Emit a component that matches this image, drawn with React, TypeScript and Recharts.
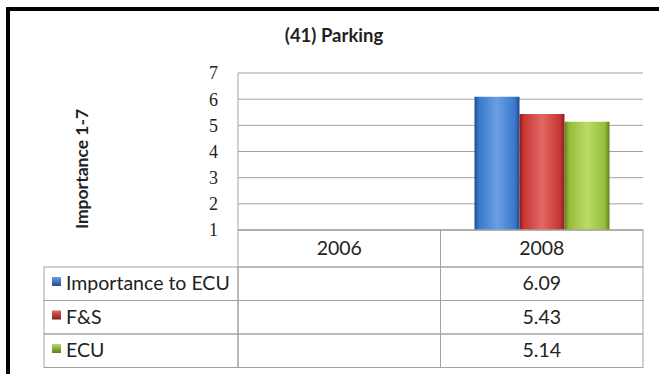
import { FC } from "react";
import {
    BarChart,
    Bar,
    CartesianGrid,
    XAxis,
    YAxis,
    Customized,
} from "recharts";

const years = ["2006", "2008"];
const importanceToEcu = [null, 6.09];
const fAndS = [null, 5.43];
const ecu = [null, 5.14];
const yTicks = [1, 2, 3, 4, 5, 6, 7];

const SERIES = [
    { key: "importance", name: "Importance to ECU", values: importanceToEcu, color: "#3a78cc", dark: "#1d4c92", light: "#6a9fe2" },
    { key: "fs", name: "F&S", values: fAndS, color: "#c93633", dark: "#8a1d1b", light: "#e06865" },
    { key: "ecu", name: "ECU", values: ecu, color: "#95bd38", dark: "#5c7e1e", light: "#badb68" },
];

const data = years.map((year, i) => {
    const row: { [key: string]: string | number | null } = { year };
    SERIES.forEach((s) => (row[s.key] = s.values[i]));
    return row;
});

const WIDTH = 659;
const HEIGHT = 374;
const MARGIN = { top: 73, right: 16, bottom: 0, left: 198 };
const Y_AXIS_W = 40;
const X_AXIS_H = 144;
const PLOT_W = WIDTH - MARGIN.left - MARGIN.right - Y_AXIS_W;
const COL_W = PLOT_W / years.length;
const LABEL_LEFT = 44;
const HEADER_H = 37;
const ROW_H = 33.5;
const GRID = "#a3a3a3";
const FONT = "Lato, 'Open Sans', sans-serif";
const TABLE_FONT = 19.5;

const TableTick: FC<any> = ({ x, y, payload, index }) => {
    const left = x - COL_W / 2;
    const cells = [];
    cells.push(
        <rect key="h" x={left} y={y} width={COL_W} height={HEADER_H} fill="none" stroke={GRID} />
    );
    cells.push(
        <text key="ht" x={x} y={y + 25} textAnchor="middle" fontSize={TABLE_FONT} fontFamily={FONT} fill="#222">
            {payload.value}
        </text>
    );
    SERIES.forEach((s, r) => {
        const top = y + HEADER_H + r * ROW_H;
        const v = s.values[index];
        cells.push(
            <rect key={"c" + r} x={left} y={top} width={COL_W} height={ROW_H} fill="none" stroke={GRID} />
        );
        if (v != null) {
            cells.push(
                <text key={"t" + r} x={x} y={top + 23} textAnchor="middle" fontSize={TABLE_FONT} fontFamily={FONT} fill="#222">
                    {v.toFixed(2)}
                </text>
            );
        }
        if (index === 0) {
            cells.push(
                <g key={"l" + r}>
                    <rect x={LABEL_LEFT} y={top} width={left - LABEL_LEFT} height={ROW_H} fill="none" stroke={GRID} />
                    <rect x={LABEL_LEFT + 8} y={top + 10} width={9} height={9} fill={`url(#key-${s.key})`} />
                    <text x={LABEL_LEFT + 22} y={top + 23} fontSize={TABLE_FONT} fontFamily={FONT} fill="#222">
                        {s.name}
                    </text>
                </g>
            );
        }
    });
    return <g>{cells}</g>;
};

const Decorations: FC = () => (
    <g>
        <defs>
            {SERIES.map((s) => (
                <linearGradient key={s.key} id={`grad-${s.key}`} x1="0" y1="0" x2="1" y2="0">
                    <stop offset="0%" stopColor={s.dark} />
                    <stop offset="10%" stopColor={s.color} />
                    <stop offset="50%" stopColor={s.light} />
                    <stop offset="90%" stopColor={s.color} />
                    <stop offset="100%" stopColor={s.dark} />
                </linearGradient>
            ))}
            {SERIES.map((s) => (
                <linearGradient key={s.key} id={`key-${s.key}`} x1="0" y1="0" x2="0" y2="1">
                    <stop offset="0%" stopColor={s.light} />
                    <stop offset="100%" stopColor={s.dark} />
                </linearGradient>
            ))}
        </defs>
        <text x={334} y={42} textAnchor="middle" fontSize={18.5} fontWeight="bold" fontFamily={FONT} fill="#222">
            (41) Parking
        </text>
        <text
            x={88}
            y={169}
            transform="rotate(-90 88 169)"
            textAnchor="middle"
            fontSize={17.5}
            fontWeight="bold"
            fontFamily={FONT}
            fill="#222"
        >
            Importance 1-7
        </text>
    </g>
);

const App: FC = () => {
    return (
        <div style={{ position: "absolute", left: 0, top: 0, width: WIDTH, height: HEIGHT, background: "#fff" }}>
            {/* cropped outer frame, only top and left edges visible */}
            <div
                style={{
                    position: "absolute",
                    left: 6,
                    top: 7,
                    right: 0,
                    bottom: 0,
                    borderTop: "4px solid #000",
                    borderLeft: "4px solid #000",
                }}
            />
            <div style={{ position: "absolute", left: 0, top: 0 }}>
                <BarChart width={WIDTH} height={HEIGHT} data={data} margin={MARGIN} barGap={0}>
                    <Customized component={Decorations} />
                    <CartesianGrid stroke={GRID} vertical={false} />
                    <XAxis
                        dataKey="year"
                        height={X_AXIS_H}
                        axisLine={{ stroke: GRID }}
                        tickLine={false}
                        tickSize={0}
                        tickMargin={0}
                        tick={<TableTick />}
                        interval={0}
                    />
                    <YAxis
                        width={Y_AXIS_W}
                        domain={[1, 7]}
                        ticks={yTicks}
                        allowDataOverflow
                        axisLine={{ stroke: GRID }}
                        tickLine={false}
                        tickMargin={14}
                        tick={{ fontSize: 18, fill: "#222", fontFamily: "'Liberation Serif', serif" }}
                    />
                    {SERIES.map((s) => (
                        <Bar
                            key={s.key}
                            dataKey={s.key}
                            name={s.name}
                            barSize={45}
                            fill={`url(#grad-${s.key})`}
                            isAnimationActive={false}
                        />
                    ))}
                </BarChart>
            </div>
        </div>
    );
};

export default App;
